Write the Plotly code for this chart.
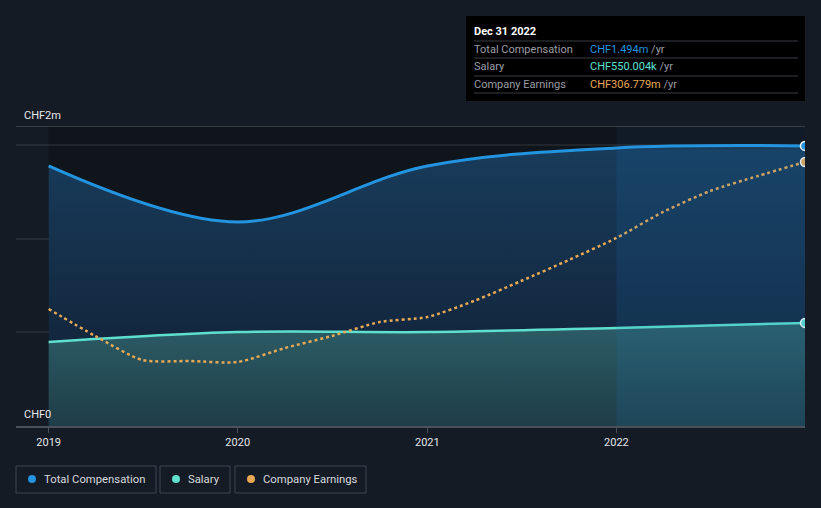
import plotly.graph_objects as go

# ---------------- data ----------------
comp_dates = ["2019-01-01", "2020-01-01", "2021-01-01", "2022-01-01", "2022-12-31"]
total_comp = [1.387e6, 1.088e6, 1.387e6, 1.483e6, 1.494e6]
salary = [0.448e6, 0.501e6, 0.501e6, 0.523e6, 0.550e6]

earn_dates = ["2019-01-01", "2019-04-01", "2019-07-01", "2019-10-01",
              "2020-01-01", "2020-04-01", "2020-07-01", "2020-10-01",
              "2021-01-01", "2021-04-01", "2021-07-01", "2021-10-01",
              "2022-01-01", "2022-04-01", "2022-07-01", "2022-10-01", "2022-12-31"]
earnings = [136.0e6, 104.6e6, 76.7e6, 75.5e6,
            74.4e6, 90.6e6, 104.6e6, 120.8e6,
            126.7e6, 145.3e6, 168.5e6, 192.9e6,
            218.5e6, 248.7e6, 273.1e6, 290.5e6, 306.779e6]

tick_vals = ["2019-01-01", "2020-01-01", "2021-01-01", "2022-01-01"]
tick_text = ["2019", "2020", "2021", "2022"]

legend_names = ["Total Compensation", "Salary", "Company Earnings"]
colors = ["#2394df", "#5fe0cf", "#e8a955"]

# ---------------- layout geometry ----------------
W, H = 821, 508
L, R, T, B = 16, 805, 126, 426


def px(x):
    return (x - L) / (R - L)


def py(y):
    return (B - y) / (B - T)


BG = "#151b24"

fig = go.Figure()

# Total compensation (area)
fig.add_trace(go.Scatter(
    x=comp_dates, y=total_comp, name=legend_names[0], mode="lines",
    line=dict(color=colors[0], width=3, shape="spline", smoothing=1.0),
    fill="tozeroy",
    fillgradient=dict(type="vertical", colorscale=[
        [0, "#101c2e"], [0.35, "#132840"], [1, "#183c5b"]]),
    showlegend=False, hoverinfo="skip"))

# Salary (area)
fig.add_trace(go.Scatter(
    x=comp_dates, y=salary, name=legend_names[1], mode="lines",
    line=dict(color=colors[1], width=2.5, shape="spline", smoothing=1.0),
    fill="tozeroy",
    fillgradient=dict(type="vertical", colorscale=[
        [0, "#1f3d48"], [1, "#2c5d66"]]),
    showlegend=False, hoverinfo="skip"))

# Company earnings (dotted, secondary axis)
fig.add_trace(go.Scatter(
    x=earn_dates, y=earnings, name=legend_names[2], mode="lines", yaxis="y2",
    line=dict(color=colors[2], width=2.5, dash="dot", shape="spline", smoothing=0.7),
    showlegend=False, hoverinfo="skip"))

# End markers
fig.add_trace(go.Scatter(x=[comp_dates[-1]], y=[total_comp[-1]], mode="markers",
                         marker=dict(color=colors[0], size=9, line=dict(color="white", width=1.5)),
                         showlegend=False, hoverinfo="skip"))
fig.add_trace(go.Scatter(x=[comp_dates[-1]], y=[salary[-1]], mode="markers",
                         marker=dict(color=colors[1], size=9, line=dict(color="white", width=1.5)),
                         showlegend=False, hoverinfo="skip"))
fig.add_trace(go.Scatter(x=[earn_dates[-1]], y=[earnings[-1]], mode="markers", yaxis="y2",
                         marker=dict(color=colors[2], size=9, line=dict(color="white", width=1.5)),
                         showlegend=False, hoverinfo="skip"))

shapes = []
annotations = []

# darker plot area background from 2019
shapes.append(dict(type="rect", xref="x", yref="y", x0="2019-01-01", x1="2022-12-31",
                   y0=0, y1=1.6e6, fillcolor="#10141b", line=dict(width=0), layer="below"))
# subtle highlight of the latest period above the line
shapes.append(dict(type="rect", xref="x", yref="y", x0="2022-01-01", x1="2022-12-31",
                   y0=1.4e6, y1=1.6e6, fillcolor="rgba(30,90,150,0.10)", line=dict(width=0),
                   layer="below"))
# highlight of the latest period over the filled areas
shapes.append(dict(type="rect", xref="x", yref="y", x0="2022-01-01", x1="2022-12-31",
                   y0=0, y1=1.475e6, fillcolor="rgba(30,120,190,0.14)", line=dict(width=0),
                   layer="above"))
# top line
shapes.append(dict(type="line", xref="paper", yref="y", x0=0, x1=1, y0=1.6e6, y1=1.6e6,
                   line=dict(color="#474c55", width=1.5)))

# y labels
annotations.append(dict(x=px(22), y=py(115), xref="paper", yref="paper", text="CHF2m",
                        showarrow=False, xanchor="left", yanchor="middle",
                        font=dict(color="#e6e8eb", size=11)))
annotations.append(dict(x=px(22), y=py(414), xref="paper", yref="paper", text="CHF0",
                        showarrow=False, xanchor="left", yanchor="middle",
                        font=dict(color="#e6e8eb", size=11)))

# ---------------- tooltip box ----------------
shapes.append(dict(type="rect", xref="paper", yref="paper", x0=px(466), x1=px(805),
                   y0=py(101), y1=py(16), fillcolor="#000000", line=dict(width=0)))
for ly in [41, 58, 76, 93]:
    shapes.append(dict(type="line", xref="paper", yref="paper", x0=px(474), x1=px(798),
                       y0=py(ly), y1=py(ly), line=dict(color="#3b3d42", width=1)))
annotations.append(dict(x=px(472), y=py(31), xref="paper", yref="paper", text="<b>Dec 31 2022</b>",
                        showarrow=False, xanchor="left", yanchor="middle",
                        font=dict(color="#ffffff", size=11)))
rows = [("Total Compensation", "CHF1.494m", colors[0], 49),
        ("Salary", "CHF550.004k", colors[1], 66),
        ("Company Earnings", "CHF306.779m", colors[2], 84)]
for lab, val, col, ry in rows:
    annotations.append(dict(x=px(472), y=py(ry), xref="paper", yref="paper", text=lab,
                            showarrow=False, xanchor="left", yanchor="middle",
                            font=dict(color="#9a9ea5", size=11)))
    annotations.append(dict(x=px(588), y=py(ry), xref="paper", yref="paper",
                            text=f"<span style='color:{col}'>{val}</span> /yr",
                            showarrow=False, xanchor="left", yanchor="middle",
                            font=dict(color="#9a9ea5", size=11)))

# ---------------- legend (boxes) ----------------
leg = [(16, 156, 32, 42, legend_names[0], colors[0]),
       (160, 230, 176, 186, legend_names[1], colors[1]),
       (235, 366, 251, 261, legend_names[2], colors[2])]
for x0, x1, cx, tx, name, col in leg:
    shapes.append(dict(type="rect", xref="paper", yref="paper", x0=px(x0), x1=px(x1),
                       y0=py(493), y1=py(466), line=dict(color="#3c4350", width=1),
                       fillcolor="rgba(0,0,0,0)"))
    shapes.append(dict(type="circle", xref="paper", yref="paper", x0=px(cx - 4), x1=px(cx + 4),
                       y0=py(483), y1=py(475), fillcolor=col, line=dict(width=0)))
    annotations.append(dict(x=px(tx), y=py(479.5), xref="paper", yref="paper", text=name,
                            showarrow=False, xanchor="left", yanchor="middle",
                            font=dict(color="#d5d9de", size=11.3)))

fig.update_layout(
    width=W, height=H,
    margin=dict(l=L, r=W - R, t=T, b=H - B, pad=0),
    paper_bgcolor=BG, plot_bgcolor=BG,
    font=dict(family="Roboto, 'Open Sans', sans-serif", color="#d5d9de", size=11),
    showlegend=False,
    xaxis=dict(range=["2018-10-30", "2022-12-31"], tickvals=tick_vals, ticktext=tick_text,
               showgrid=False, zeroline=False, showline=True, linecolor="#4b515b", linewidth=1.5,
               ticks="outside", ticklen=5, tickcolor="#4b515b",
               tickfont=dict(color="#e2e5e9", size=11), fixedrange=True),
    yaxis=dict(range=[0, 1.6e6], tickvals=[0.5e6, 1.0e6, 1.5e6], showticklabels=False,
               showgrid=True, gridcolor="rgba(255,255,255,0.07)", gridwidth=1.5,
               zeroline=False, fixedrange=True),
    yaxis2=dict(range=[0, 348.6e6], overlaying="y", visible=False, showgrid=False,
                fixedrange=True),
    shapes=shapes, annotations=annotations,
)

fig.write_html("out.html")
